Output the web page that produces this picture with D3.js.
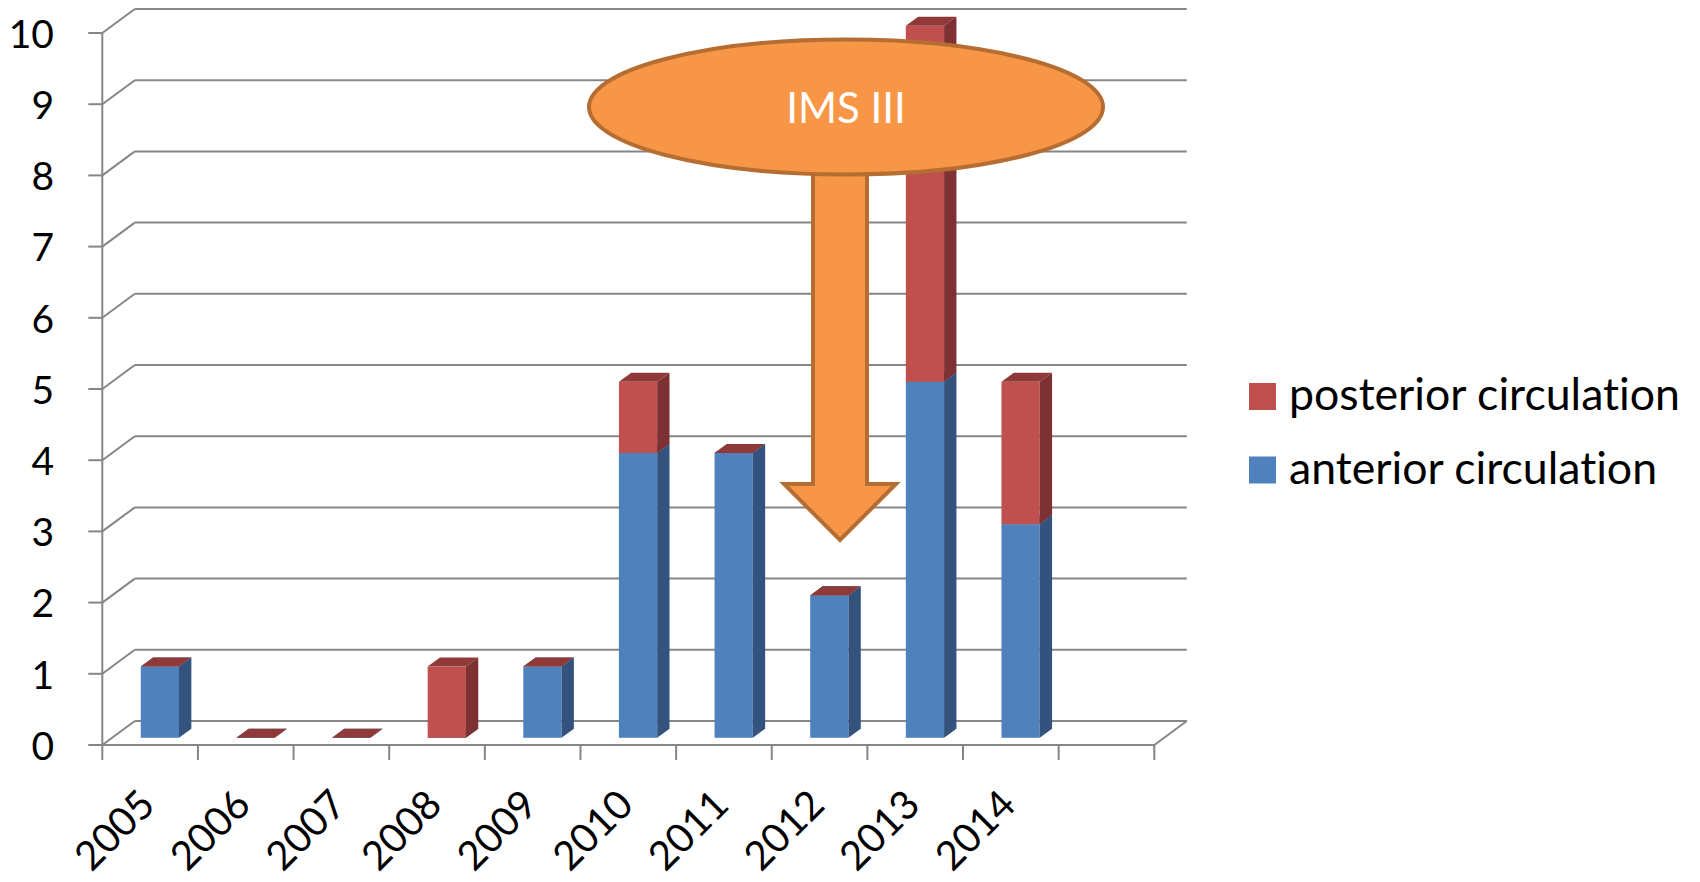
<!DOCTYPE html>
<html>
<head>
<meta charset="utf-8">
<script src="https://cdn.jsdelivr.net/npm/d3@7/dist/d3.min.js"></script>
<style>
  html, body { margin: 0; padding: 0; background: #ffffff; }
  svg { display: block; }
  text { font-family: Lato, "Open Sans", sans-serif; font-variant-ligatures: none; font-feature-settings: "liga" 0, "clig" 0; }
</style>
</head>
<body>
<svg id="chart" width="1700" height="882"></svg>
<script>
// ---- data ----
const categories = ["2005", "2006", "2007", "2008", "2009", "2010", "2011", "2012", "2013", "2014"];
const emptySlots = [" "];
const anterior = [1, 0, 0, 0, 1, 4, 4, 2, 5, 3];
const posterior = [0, 0, 0, 1, 0, 1, 0, 0, 5, 2];
const yTicks = [0, 1, 2, 3, 4, 5, 6, 7, 8, 9, 10];
const legendNames = ["posterior circulation", "anterior circulation"];
const annotationLabel = "IMS III";

(function () {
// ---- layout ----
const svg = d3.select("#chart");
const plotL = 102.3, plotR = 1154.3, plotB = 745, plotT = 33;
const depthX = 32.5, depthY = -24;        // wall depth offset
const f0 = 0.30, f1 = 0.68;               // bar front / back depth fractions
const gridColor = "#868686";

const x = d3.scaleBand().domain(categories.concat(emptySlots)).range([plotL, plotR]).padding(0);
const y = d3.scaleLinear().domain([0, 10]).range([plotB, plotT]);
const barW = x.step() / 2.5;

const colors = {
  anterior: { front: "#4F81BD", side: "#33537E", top: "#3D6698" },
  posterior: { front: "#C0504D", side: "#7D3132", top: "#8F3A39" }
};

// ---- walls: gridlines ----
const g = svg.append("g");
yTicks.forEach(t => {
  const yf = y(t), yb = y(t) + depthY;
  g.append("line").attr("x1", plotL + depthX).attr("x2", plotR + depthX)
    .attr("y1", yb).attr("y2", yb)
    .attr("stroke", gridColor).attr("stroke-width", 2);
  g.append("line").attr("x1", plotL).attr("x2", plotL + depthX)
    .attr("y1", yf).attr("y2", yb)
    .attr("stroke", gridColor).attr("stroke-width", 2);
  g.append("line").attr("x1", plotL - 14).attr("x2", plotL)
    .attr("y1", yf).attr("y2", yf)
    .attr("stroke", gridColor).attr("stroke-width", 2);
  g.append("text").attr("x", 54).attr("y", yf).attr("dy", "0.38em")
    .attr("text-anchor", "end").attr("font-size", 39).attr("fill", "#000")
    .text(t);
});
g.append("line").attr("x1", plotL).attr("x2", plotL).attr("y1", y(10)).attr("y2", y(0))
  .attr("stroke", gridColor).attr("stroke-width", 2);
g.append("line").attr("x1", plotL).attr("x2", plotR).attr("y1", y(0)).attr("y2", y(0))
  .attr("stroke", gridColor).attr("stroke-width", 2);
g.append("line").attr("x1", plotR).attr("x2", plotR + depthX).attr("y1", y(0)).attr("y2", y(0) + depthY)
  .attr("stroke", gridColor).attr("stroke-width", 2);
const bounds = x.domain().map(d => x(d)).concat([plotR]);
bounds.forEach(bx => {
  g.append("line").attr("x1", bx).attr("x2", bx).attr("y1", y(0)).attr("y2", y(0) + 15)
    .attr("stroke", gridColor).attr("stroke-width", 2);
});
categories.forEach(c => {
  const cx = x(c) + x.bandwidth() / 2;
  g.append("text")
    .attr("transform", `translate(${cx + 7},${807}) rotate(-45)`)
    .attr("text-anchor", "end").attr("font-size", 40).attr("fill", "#000")
    .text(c);
});

// ---- bars ----
const bars = svg.append("g");
const ox0 = depthX * f0, oy0 = depthY * f0;
const sx = depthX * (f1 - f0), sy = depthY * (f1 - f0);
categories.forEach((c, i) => {
  const x0 = x(c) + (x.bandwidth() - barW) / 2 + ox0;
  const x1 = x0 + barW;
  const segs = [
    { key: "anterior", lo: 0, hi: anterior[i] },
    { key: "posterior", lo: anterior[i], hi: anterior[i] + posterior[i] }
  ];
  segs.forEach(s => {
    const yLo = y(s.lo) + oy0, yHi = y(s.hi) + oy0;
    const col = colors[s.key];
    if (s.hi > s.lo) {
      bars.append("rect").attr("x", x0).attr("y", yHi).attr("width", barW).attr("height", yLo - yHi)
        .attr("fill", col.front);
      bars.append("path")
        .attr("d", `M${x1},${yLo} L${x1 + sx},${yLo + sy} L${x1 + sx},${yHi + sy} L${x1},${yHi} Z`)
        .attr("fill", col.side);
    }
    bars.append("path")
      .attr("d", `M${x0},${yHi} L${x1},${yHi} L${x1 + sx},${yHi + sy} L${x0 + sx},${yHi + sy} Z`)
      .attr("fill", col.top);
  });
});

// ---- legend ----
const legend = svg.append("g");
const legendColors = [colors.posterior.front, colors.anterior.front];
const legendTexts = [];
legendNames.forEach((n, i) => {
  const ly = 396.5 + i * 73.5;
  legend.append("rect").attr("x", 1249).attr("y", ly - 13.5).attr("width", 27).attr("height", 27)
    .attr("fill", legendColors[i]);
  legendTexts.push(legend.append("text").attr("x", 1289).attr("y", ly + 13.5)
    .attr("font-size", 40).attr("fill", "#000").text(n));
});
// fit first legend entry to the reference text width (~391px)
const w0 = legendTexts[0].node().getComputedTextLength();
if (w0 > 0) {
  const fs = Math.max(36, Math.min(48, 40 * 391 / w0));
  legendTexts.forEach(t => t.attr("font-size", fs));
}

// ---- annotation: arrow + ellipse ----
const ann = svg.append("g");
const orange = "#F79646", orangeStroke = "#B66D31";
const ax = 840, shaftHalf = 27, headHalf = 56, headY = 484, tipY = 540, shaftTop = 150;
ann.append("path")
  .attr("d", `M${ax - shaftHalf},${shaftTop} L${ax + shaftHalf},${shaftTop} L${ax + shaftHalf},${headY} L${ax + headHalf},${headY} L${ax},${tipY} L${ax - headHalf},${headY} L${ax - shaftHalf},${headY} Z`)
  .attr("fill", orange).attr("stroke", orangeStroke).attr("stroke-width", 4).attr("stroke-linejoin", "miter");
ann.append("ellipse").attr("cx", 846).attr("cy", 107).attr("rx", 257).attr("ry", 67.5)
  .attr("fill", orange).attr("stroke", orangeStroke).attr("stroke-width", 4);
ann.append("text").attr("x", 846).attr("y", 108).attr("dy", "0.36em")
  .attr("text-anchor", "middle").attr("font-size", 42).attr("font-weight", 400).attr("fill", "#ffffff")
  .text(annotationLabel);
})();
</script>
</body>
</html>
